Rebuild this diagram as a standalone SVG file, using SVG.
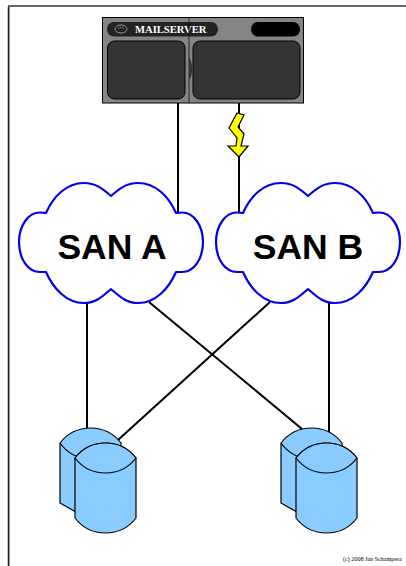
<svg xmlns="http://www.w3.org/2000/svg" width="406" height="566" viewBox="0 0 406 566">
<style>
.ln{fill:none;stroke:#000;stroke-width:2}
.cloud{fill:#fff;stroke:#0000f0;stroke-width:2.200;stroke-linejoin:round}
.clabel{font-family:"Liberation Sans",Arial,sans-serif;font-weight:bold;font-size:35.500px;fill:#000;text-anchor:middle}
.disk{fill:#8accff;stroke:#000;stroke-width:1.200;stroke-linejoin:round}
.screen{fill:#333;stroke:#000;stroke-width:1}
</style>
<defs>
<path id="cl" d="M46 213C53 197 66 183 84 183C96 183 103 189 111 196C119 189 126 183 138 183C156 183 169 197 176 213C177 213 179 212.500 182 212.500C194 212.500 203 226 203 242C203 259 194 272 182 272C179 272 177 272 176 272C169 288 156 303 138 303C126 303 119 296 111 289C103 296 96 303 84 303C66 303 53 288 46 272C45 272 43 272 40 272C28 272 19 259 19 242C19 226 28 212.500 40 212.500C43 212.500 45 213 46 213Z"/>
<g id="dk">
<path class="disk" d="M60 443A38.500 38.500 0 0 1 121 443V503L90 520L60 503Z"/>
<path class="disk" fill="none" d="M60 443A38.500 38.500 0 0 0 90 459"/>
<path class="disk" d="M75 458A38.500 38.500 0 0 1 136 458V518A38.500 38.500 0 0 1 75 518Z"/>
<path class="disk" d="M75 458A38.500 38.500 0 0 0 136 458A38.500 38.500 0 0 0 75 458Z"/>
</g>
</defs>
<rect width="406" height="566" fill="#fff"/>
<path d="M9.500 566V6H406" fill="none" stroke="#bbb" stroke-width="1"/>
<path d="M8.500 566V6.500" fill="none" stroke="#222" stroke-width="1.500"/>
<path d="M8 6H406" fill="none" stroke="#666" stroke-width="2"/>
<g id="connectors">
<path class="ln" d="M178 103V213M239 103V212M87 303V430M149 302L302 429M270 302L118 440M329 303V432"/>
</g>
<g id="mailserver">
<rect x="102.500" y="17.500" width="201" height="85.500" fill="#858585" stroke="#000" stroke-width="1"/>
<rect x="107" y="22" width="111" height="14.500" rx="7" fill="#222"/>
<rect x="251" y="22" width="49" height="14.500" rx="7" fill="#000"/>
<rect class="screen" x="107.500" y="41" width="77.500" height="58" rx="7"/>
<rect class="screen" x="193" y="41" width="107" height="58" rx="7"/>
<path d="M189.500 57C193 65 193 74 189.500 80Z" fill="#333"/>
<ellipse cx="121" cy="29" rx="6" ry="4" fill="#222" stroke="#999" stroke-width="1"/>
<path d="M118 29C120 27 123 27 124 29" fill="none" stroke="#999" stroke-width=".7"/>
<text x="135" y="33" font-family="Liberation Serif,serif" font-weight="bold" font-size="10.600" fill="#fff">MAILSERVER</text>
<path d="M189 17V103" stroke="#000" stroke-opacity=".7" stroke-width="1"/>
</g>
<g id="bolt">
<path d="M237 113L244 115L238 127L244 134L241 146L248 146L239 157L228 146L236 146L237 138L229 128Z" fill="#ff0" stroke="#000" stroke-width="1.200" stroke-linejoin="miter"/>
</g>
<g id="san-a">
<use href="#cl" class="cloud"/>
<text class="clabel" x="112" y="259">SAN A</text>
</g>
<g id="san-b">
<use href="#cl" class="cloud" x="197"/>
<text class="clabel" x="308" y="259">SAN B</text>
</g>
<g id="disk-a"><use href="#dk"/></g>
<g id="disk-b"><use href="#dk" x="221"/></g>
<text x="343" y="561" font-family="Liberation Serif,serif" font-size="6.100" fill="#000">(c) 2008 Jan Schampera</text>
</svg>
